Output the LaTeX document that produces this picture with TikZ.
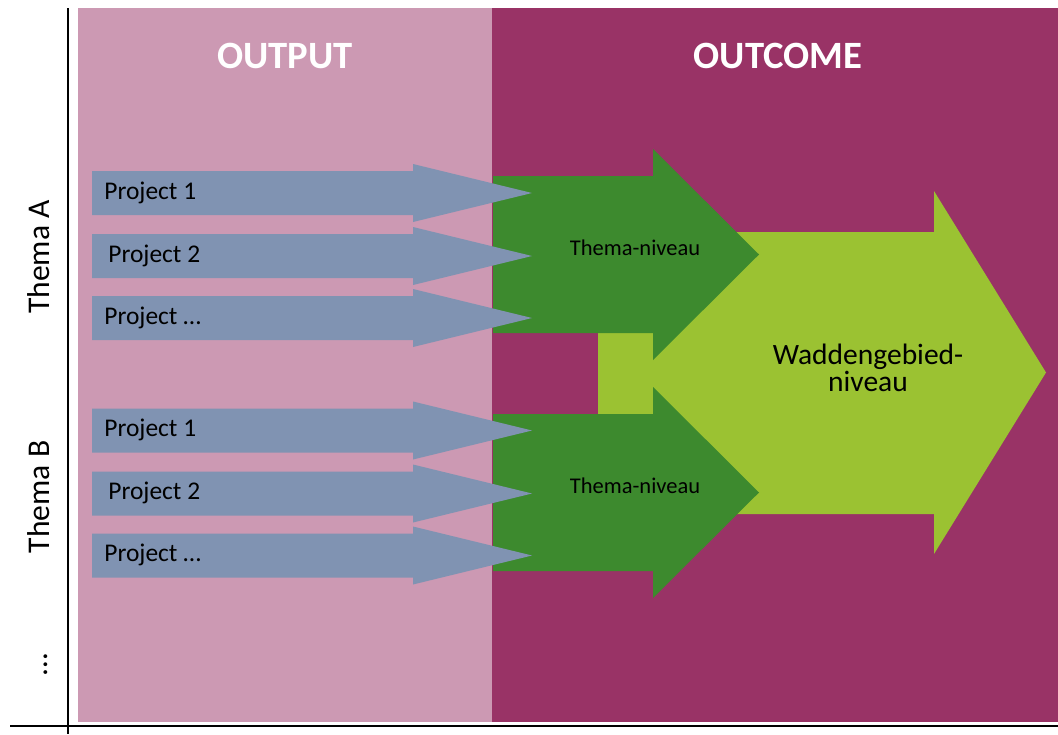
\documentclass[tikz,border=0pt]{standalone}
\usepackage{fontspec}
\setmainfont{Carlito}
\definecolor{outputpink}{RGB}{204,153,179}
\definecolor{outcomeplum}{RGB}{153,51,102}
\definecolor{projectblue}{RGB}{128,147,178}
\definecolor{themagreen}{RGB}{61,138,46}
\definecolor{waddengreen}{RGB}{155,194,50}

\begin{document}
\begin{tikzpicture}[x=0.02cm, y=-0.02cm,
    header/.style={text=white, inner sep=0pt, font=\bfseries\fontsize{22}{24}\selectfont},
    themalabel/.style={rotate=90, inner sep=0pt, font=\fontsize{18}{20}\selectfont},
    projtext/.style={anchor=base west, inner sep=0pt, font=\fontsize{14.5}{16}\selectfont},
    nivtext/.style={anchor=base, inner sep=0pt, font=\fontsize{12.8}{14}\selectfont},
    waddentext/.style={align=center, inner sep=0pt, font=\fontsize{16.8}{12}\selectfont}]
    \useasboundingbox (0,0) rectangle (1058,734);
    % Two columns
    \fill[outputpink] (78,8) rectangle (492,722);
    \fill[outcomeplum] (492,8) rectangle (1058,722);
    % Axes
    \draw[line width=1pt] (68,8) -- (68,734);
    \draw[line width=1pt] (10,726) -- (1058,726);
    % Column headers
    \node[header] (output) at (285,56) {OUTPUT};
    \node[header] (outcome) at (778,56) {OUTCOME};
    % Row labels
    \node[themalabel] (themaA) at (39,257) {Thema A};
    \node[themalabel] (themaB) at (39,497) {Thema B};
    \node[themalabel] (moredots) at (46,665) {…};
    % Big arrow: Waddengebied
    \fill[waddengreen] (598,232) -- (934,232) -- (934,191) -- (1046,372.5) -- (934,554) -- (934,514) -- (598,514) -- cycle;
    \node[waddentext] (wadden) at (868,368) {Waddengebied-\\niveau};
    % Thema arrows
    \foreach \c/\n in {254.5/A, 492.5/B} {
        \fill[themagreen] (493,\c-78.5) -- (653,\c-78.5) -- (653,\c-105.5) -- (759,\c) -- (653,\c+105.5) -- (653,\c+78.5) -- (493,\c+78.5) -- cycle;
        \node[nivtext] (niv\n) at (635,\c+1) {Thema-niveau};
    }
    % Project arrows
    \foreach \c/\x/\lab/\n in {193/104/Project 1/A1, 256/108/Project 2/A2, 318/104/Project …/A3,
                              430.5/104/Project 1/B1, 493.5/108/Project 2/B2, 555.5/104/Project …/B3} {
        \fill[projectblue] (92,\c-22) -- (413,\c-22) -- (413,\c-29) -- (532,\c) -- (413,\c+29) -- (413,\c+22) -- (92,\c+22) -- cycle;
        \node[projtext] (proj\n) at (\x,\c+6) {\lab};
    }
\end{tikzpicture}
\end{document}
